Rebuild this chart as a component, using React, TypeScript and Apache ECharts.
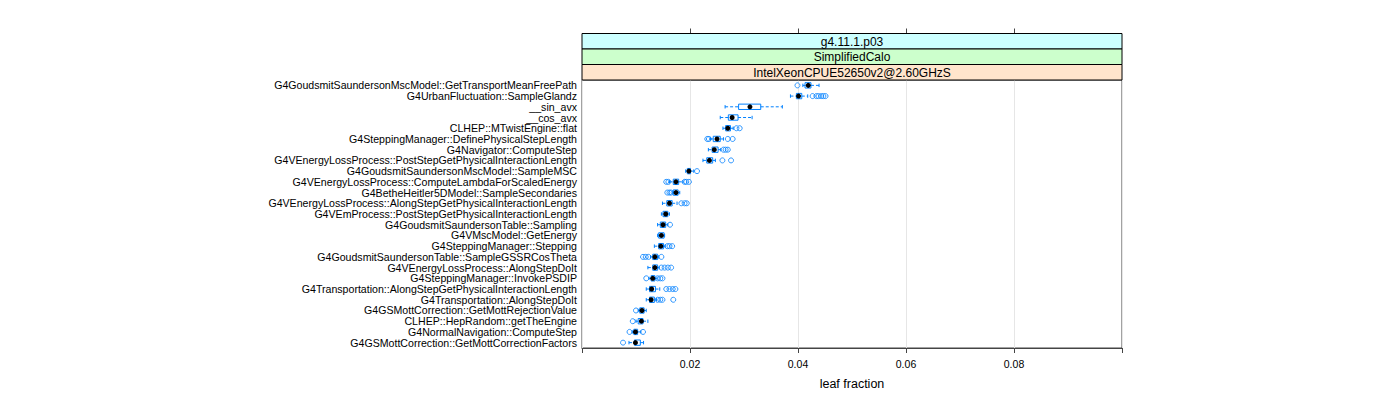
import React, { useEffect, useRef } from "react";
import * as echarts from "echarts";

const categories = [
  "G4GoudsmitSaundersonMscModel::GetTransportMeanFreePath",
  "G4UrbanFluctuation::SampleGlandz",
  "__sin_avx",
  "__cos_avx",
  "CLHEP::MTwistEngine::flat",
  "G4SteppingManager::DefinePhysicalStepLength",
  "G4Navigator::ComputeStep",
  "G4VEnergyLossProcess::PostStepGetPhysicalInteractionLength",
  "G4GoudsmitSaundersonMscModel::SampleMSC",
  "G4VEnergyLossProcess::ComputeLambdaForScaledEnergy",
  "G4BetheHeitler5DModel::SampleSecondaries",
  "G4VEnergyLossProcess::AlongStepGetPhysicalInteractionLength",
  "G4VEmProcess::PostStepGetPhysicalInteractionLength",
  "G4GoudsmitSaundersonTable::Sampling",
  "G4VMscModel::GetEnergy",
  "G4SteppingManager::Stepping",
  "G4GoudsmitSaundersonTable::SampleGSSRCosTheta",
  "G4VEnergyLossProcess::AlongStepDoIt",
  "G4SteppingManager::InvokePSDIP",
  "G4Transportation::AlongStepGetPhysicalInteractionLength",
  "G4Transportation::AlongStepDoIt",
  "G4GSMottCorrection::GetMottRejectionValue",
  "CLHEP::HepRandom::getTheEngine",
  "G4NormalNavigation::ComputeStep",
  "G4GSMottCorrection::GetMottCorrectionFactors",
];

const whiskerLow = [0.0409, 0.0386, 0.0265, 0.0256, 0.0261, 0.0238, 0.0234, 0.0224, 0.0192, 0.0162, 0.0168, 0.0149, 0.0147, 0.014, 0.014, 0.0134, 0.0127, 0.0122, 0.0124, 0.0119, 0.0119, 0.0104, 0.01, 0.0093, 0.0087];
const q1 = [0.0413, 0.0397, 0.029, 0.0271, 0.0266, 0.0243, 0.0241, 0.0231, 0.0195, 0.0169, 0.0169, 0.0157, 0.015, 0.0145, 0.0142, 0.0142, 0.0131, 0.0131, 0.0128, 0.0125, 0.0125, 0.0107, 0.0104, 0.0096, 0.0097];
const median = [0.0419, 0.0401, 0.0311, 0.0278, 0.027, 0.025, 0.0245, 0.0236, 0.0198, 0.0174, 0.0174, 0.0162, 0.0155, 0.015, 0.0147, 0.0146, 0.0135, 0.0135, 0.0131, 0.0129, 0.0128, 0.0111, 0.011, 0.0099, 0.0099];
const q3 = [0.0424, 0.0407, 0.0331, 0.0289, 0.0275, 0.0256, 0.0252, 0.0242, 0.0201, 0.0179, 0.0178, 0.0167, 0.0159, 0.0155, 0.0152, 0.0151, 0.014, 0.014, 0.0135, 0.0136, 0.0134, 0.0115, 0.0113, 0.0103, 0.0108];
const whiskerHigh = [0.0439, 0.0418, 0.0371, 0.0315, 0.028, 0.0262, 0.0257, 0.0247, 0.0207, 0.0187, 0.0181, 0.0176, 0.0162, 0.0159, 0.0153, 0.0154, 0.0142, 0.0143, 0.0139, 0.0144, 0.0138, 0.0119, 0.0122, 0.0109, 0.0114];
const outliers: number[][] = [
  [0.0399],
  [0.0427, 0.0434, 0.0438, 0.0443, 0.0447, 0.0451],
  [],
  [],
  [0.0286, 0.0292],
  [0.0232, 0.0235, 0.027, 0.0279],
  [0.0262, 0.0266, 0.027],
  [0.026, 0.0276],
  [0.0213],
  [0.0156, 0.016, 0.019, 0.0193, 0.0198],
  [0.0158, 0.0162, 0.0165],
  [0.0184, 0.019, 0.0194],
  [],
  [0.0163],
  [],
  [0.0158, 0.0162, 0.0167],
  [0.0113, 0.0118, 0.0123, 0.0147],
  [0.0147, 0.0153, 0.0159, 0.0165],
  [0.0119, 0.014, 0.0145, 0.0149],
  [0.0156, 0.0162, 0.0168, 0.0173],
  [0.014, 0.0145, 0.0149, 0.0169],
  [0.01],
  [0.0094],
  [0.0088, 0.0113],
  [0.0076],
];
const xTickLabels = [0.02, 0.04, 0.06, 0.08];
const stripTexts = ["g4.11.1.p03", "SimplifiedCalo", "IntelXeonCPUE52650v2@2.60GHzS"];
const stripColors = ["#ccffff", "#ccffcc", "#ffe5cc"];

const BLUE = "#0080ff";
const FONT = "'Liberation Sans', Arial, Helvetica, sans-serif";

export default function App() {
  const ref = useRef<HTMLDivElement>(null);
  useEffect(() => {
    document.body.style.margin = "0";
    const chart = echarts.init(ref.current!, null, { renderer: "svg" });
    const gridLeft = 582;
    const gridRight = 278;
    const gridTop = 80;
    const gridBottom = 52;
    const stripH = 15.5;
    const panelW = 1400 - gridLeft - gridRight;

    const boxData = categories.map((_, i) => [i, whiskerLow[i], q1[i], median[i], q3[i], whiskerHigh[i]]);
    const outlierData: number[][] = [];
    outliers.forEach((arr, i) => arr.forEach((v) => outlierData.push([v, i])));

    const graphics: any[] = [];
    stripTexts.forEach((t, k) => {
      const y = gridTop - stripH * (3 - k);
      graphics.push({
        type: "rect",
        shape: { x: gridLeft, y, width: panelW, height: stripH },
        style: { fill: stripColors[k], stroke: "#000", lineWidth: 1 },
        z: 10,
      });
      graphics.push({
        type: "text",
        x: gridLeft + panelW / 2,
        y: y + stripH / 2 + 0.5,
        style: { text: t, fill: "#000", font: `12px ${FONT}`, textAlign: "center", textVerticalAlign: "middle" },
        z: 11,
      });
    });

    chart.setOption({
      animation: false,
      textStyle: { fontFamily: FONT },
      grid: {
        left: gridLeft,
        right: gridRight,
        top: gridTop,
        bottom: gridBottom,
        show: true,
        borderColor: "#444",
        borderWidth: 1,
        backgroundColor: "transparent",
      },
      graphic: graphics,
      xAxis: [
        {
          type: "value",
          min: 0,
          max: 0.1,
          interval: 0.02,
          position: "bottom",
          name: "leaf fraction",
          nameLocation: "middle",
          nameGap: 29,
          nameTextStyle: { fontSize: 12.5, color: "#000", fontFamily: FONT },
          axisLine: { show: true, lineStyle: { color: "#444", width: 1 } },
          axisTick: { show: true, length: 5, inside: false, lineStyle: { color: "#444" } },
          axisLabel: {
            customValues: xTickLabels,
            fontSize: 10.5,
            color: "#000",
            margin: 10,
            fontFamily: FONT,
            formatter: (v: number) => v.toFixed(2),
          },
          splitLine: { show: true, lineStyle: { color: "#e6e6e6", width: 1 } },
        },
        {
          type: "value",
          min: 0,
          max: 0.1,
          interval: 0.02,
          position: "top",
          offset: stripH * 3,
          axisLine: { show: false },
          axisTick: { show: true, length: 5, customValues: xTickLabels, lineStyle: { color: "#444" } },
          axisLabel: { show: false },
          splitLine: { show: false },
        },
      ],
      yAxis: {
        type: "category",
        inverse: true,
        data: categories,
        boundaryGap: true,
        axisLine: { show: false },
        axisTick: { show: false },
        splitLine: { show: false },
        axisLabel: {
          interval: 0,
          fontSize: 10.6,
          color: "#000",
          margin: 5,
          fontFamily: FONT,
        },
      },
      series: [
        {
          type: "scatter",
          xAxisIndex: 0,
          data: outlierData,
          symbol: "circle",
          symbolSize: 5,
          itemStyle: { color: "rgba(0,0,0,0)", borderColor: BLUE, borderWidth: 1 },
          z: 2,
        },
        {
          type: "custom",
          xAxisIndex: 0,
          data: boxData,
          encode: { y: 0, x: [1, 2, 3, 4, 5] },
          z: 3,
          renderItem: (params: any, api: any) => {
            const idx = api.value(0);
            const lo = api.coord([api.value(1), idx]);
            const b1 = api.coord([api.value(2), idx]);
            const md = api.coord([api.value(3), idx]);
            const b3 = api.coord([api.value(4), idx]);
            const hi = api.coord([api.value(5), idx]);
            const band = api.size([0, 1])[1];
            const bh = band * 0.5;
            const ch = band * 0.32;
            const y = md[1];
            const dash = { stroke: BLUE, lineWidth: 1, lineDash: [3, 2], fill: null };
            const solid = { stroke: BLUE, lineWidth: 1, fill: null };
            return {
              type: "group",
              children: [
                { type: "line", shape: { x1: lo[0], y1: y, x2: b1[0], y2: y }, style: dash },
                { type: "line", shape: { x1: b3[0], y1: y, x2: hi[0], y2: y }, style: dash },
                { type: "line", shape: { x1: lo[0], y1: y - ch / 2, x2: lo[0], y2: y + ch / 2 }, style: solid },
                { type: "line", shape: { x1: hi[0], y1: y - ch / 2, x2: hi[0], y2: y + ch / 2 }, style: solid },
                {
                  type: "rect",
                  shape: { x: b1[0], y: y - bh / 2, width: b3[0] - b1[0], height: bh },
                  style: { stroke: BLUE, lineWidth: 1, fill: "rgba(0,0,0,0)" },
                },
                { type: "circle", shape: { cx: md[0], cy: y, r: 2.5 }, style: { fill: "#000", stroke: null } },
              ],
            };
          },
        },
      ],
    });
    return () => chart.dispose();
  }, []);
  return <div ref={ref} style={{ width: 1400, height: 400 }} />;
}
